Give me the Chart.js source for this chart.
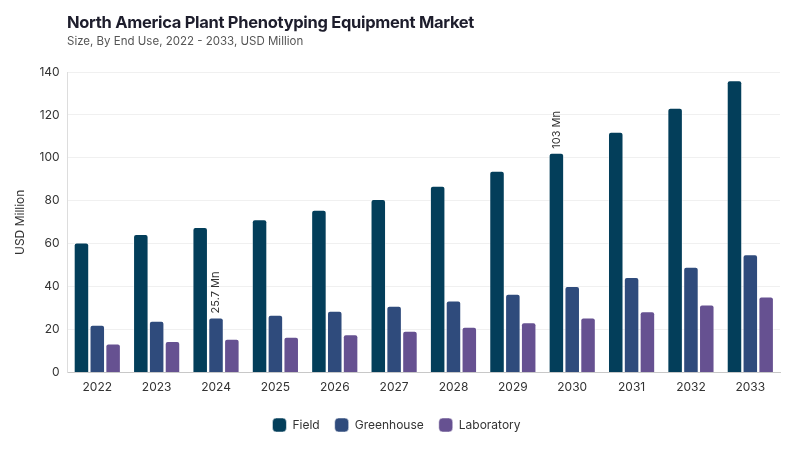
<!DOCTYPE html>
<html>
<head>
<meta charset="utf-8">
<script src="https://cdn.jsdelivr.net/npm/chart.js@4"></script>
<style>
  html,body{margin:0;padding:0;background:#fff;}
  #wrap{position:relative;width:800px;height:450px;}
  #title{position:absolute;left:67px;top:12px;font-family:Inter,Lato,sans-serif;font-weight:700;font-size:16.5px;color:#1d1d2c;letter-spacing:-0.3px;}
  #sub{position:absolute;left:67px;top:34px;font-family:Inter,Lato,sans-serif;font-size:11.5px;color:#555;}
  canvas{position:absolute;left:0;top:0;}
</style>
</head>
<body>
<div id="wrap">
  <canvas id="c" width="800" height="450"></canvas>
  <div id="title">North America Plant Phenotyping Equipment Market</div>
  <div id="sub">Size, By End Use, 2022 - 2033, USD Million</div>
</div>
<script>
const categories = ["2022","2023","2024","2025","2026","2027","2028","2029","2030","2031","2032","2033"];
const fieldValues = [60.6, 64.5, 67.8, 71.4, 75.8, 80.8, 87.0, 94.0, 102.4, 112.2, 123.3, 136.2];
const greenhouseValues = [22.3, 24.2, 25.7, 27.0, 28.8, 31.1, 33.6, 36.7, 40.3, 44.5, 49.3, 55.1];
const laboratoryValues = [13.6, 14.7, 15.8, 16.7, 17.9, 19.5, 21.4, 23.4, 25.7, 28.6, 31.7, 35.4];
const seriesNames = ["Field", "Greenhouse", "Laboratory"];
const seriesColors = ["#033e5a", "#2f4b7c", "#665191"];
// annotations: [seriesIndex, categoryIndex, label]
const annotations = [[1, 2, "25.7 Mn"], [0, 8, "103 Mn"]];

const FONT = "Inter, Lato, sans-serif";

const labelPlugin = {
  id: 'valLabels',
  afterDatasetsDraw(chart) {
    const ctx = chart.ctx;
    annotations.forEach(([ds, idx, text]) => {
      const el = chart.getDatasetMeta(ds).data[idx];
      ctx.save();
      ctx.translate(el.x, el.y - 4);
      ctx.rotate(-Math.PI / 2);
      ctx.font = "11px " + FONT;
      ctx.fillStyle = "#333";
      ctx.textAlign = "left";
      ctx.textBaseline = "middle";
      ctx.fillText(text, 0, 0);
      ctx.restore();
    });
  }
};

new Chart(document.getElementById('c'), {
  type: 'bar',
  data: {
    labels: categories,
    datasets: [fieldValues, greenhouseValues, laboratoryValues].map((d, i) => ({
      label: seriesNames[i],
      data: d,
      backgroundColor: seriesColors[i],
      borderColor: 'rgba(255,255,255,0.5)',
      borderWidth: 1,
      borderRadius: {topLeft: 3, topRight: 3},
      borderSkipped: 'bottom',
      categoryPercentage: 0.8,
      barPercentage: 0.98
    }))
  },
  options: {
    responsive: false,
    animation: false,
    devicePixelRatio: 1,
    layout: {padding: {top: 72, right: 20, left: 13, bottom: 8}},
    plugins: {
      legend: {
        position: 'bottom',
        labels: {
          font: {family: FONT, size: 12},
          color: '#333',
          boxWidth: 14,
          boxHeight: 14,
          useBorderRadius: true,
          borderRadius: 4,
          padding: 15
        }
      },
      tooltip: {enabled: false}
    },
    scales: {
      x: {
        grid: {display: false, drawTicks: false},
        border: {color: '#c8c8c8'},
        ticks: {font: {family: FONT, size: 12}, color: '#333', padding: 8}
      },
      y: {
        min: 0, max: 140,
        ticks: {stepSize: 20, font: {family: FONT, size: 12}, color: '#333', padding: 8},
        grid: {color: '#f0f0f0', drawTicks: false},
        border: {color: '#dddddd', width: 1},
        title: {display: true, text: 'USD Million', font: {family: FONT, size: 12}, color: '#333', padding: {top: 0, bottom: 4}}
      }
    }
  },
  plugins: [labelPlugin]
});
</script>
</body>
</html>
